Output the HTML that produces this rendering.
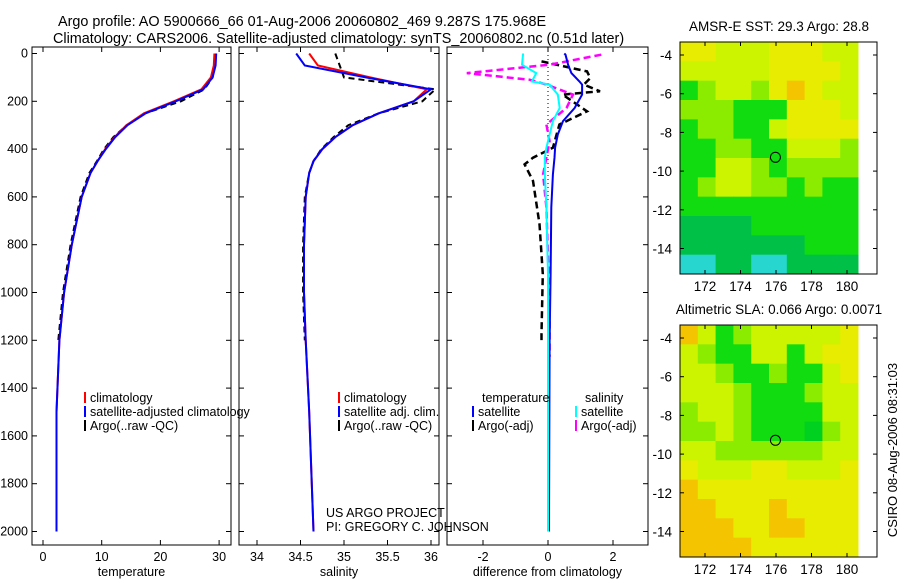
<!DOCTYPE html>
<html><head><meta charset="utf-8"><style>
body{margin:0;background:#fff;}
svg{display:block;font-family:"Liberation Sans",sans-serif;}
</style></head><body>
<svg id="fig" width="900" height="580" viewBox="0 0 900 580">
<text x="58" y="26" font-size="14.4">Argo profile: AO 5900666_66 01-Aug-2006 20060802_469 9.287S 175.968E</text>
<text x="53" y="43" font-size="14.4">Climatology: CARS2006. Satellite-adjusted climatology: synTS_20060802.nc (0.51d later)</text>
<g id="p1"></g>
<g id="p2"></g>
<g id="p3"></g>
<g id="m1"></g>
<g id="m2"></g>
<text transform="translate(897,450) rotate(-90)" text-anchor="middle" font-size="13">CSIRO 08-Aug-2006 08:31:03</text>
</svg>
<script>
// ---- data ----
const depthTicks=[0,200,400,600,800,1000,1200,1400,1600,1800,2000];
const tempTicks=[0,10,20,30];
const salTicks=[34,34.5,35,35.5,36];
const diffTicks=[-2,0,2];
const profDepth=[0,50,100,150,200,250,300,350,400,450,500,600,800,1000,1200,1500,2000];
const tempClim=[29.2,29.1,28.6,27,22.3,17.2,14.2,12.2,10.6,9.3,8.1,6.6,4.9,3.6,2.8,2.3,2.3];
const tempSat=[29.5,29.4,28.9,27.3,22.6,17.5,14.4,12.3,10.7,9.3,8.1,6.6,4.9,3.6,2.8,2.3,2.3];
const tempArgo=[29.3,29.2,28.9,27.5,23.5,17.4,14.3,12,10.4,9.2,7.9,6.4,4.7,3.4,2.6];
const argoDepth=[0,50,100,150,200,250,300,350,400,450,500,600,800,1000,1200];
const salClim=[34.6,34.7,35.3,35.95,35.8,35.4,35.1,34.9,34.75,34.65,34.6,34.56,34.54,34.54,34.56,34.6,34.65];
const salSat=[34.45,34.55,35.25,36.0,35.8,35.4,35.1,34.9,34.75,34.65,34.6,34.56,34.54,34.54,34.56,34.6,34.65];
const salArgo=[34.9,34.95,35.0,36.05,35.9,35.4,35.05,34.88,34.74,34.65,34.6,34.55,34.53,34.53,34.55];
const dDepth=[0,5,47,82,117,130,172,228,283,339,394,436,506,644,922,1200,1600,2000];
const dTempSat=[0.5,0.54,0.62,0.72,0.97,1.05,1.05,0.82,0.46,0.3,0.22,0.2,0.15,0.1,0.08,0.05,0.04,0.03];
const dSalSat=[-0.77,-0.77,-0.8,-0.36,-0.5,0.05,0.3,0.36,0.15,0.05,-0.05,-0.1,-0.1,-0.05,0,0,0,0];
const dtDepth=[33,75,103,130,158,172,242,297,394,436,464,533,714,922,1172,1200];
const dTempArgo=[-0.2,1.2,1.3,1.1,1.6,0.45,1.2,0.35,0.15,-0.46,-0.72,-0.46,-0.26,-0.16,-0.2,-0.2];
const dsDepth=[5,47,82,110,130,172,228,297,367,506,644,1061,1269];
const dSalArgo=[1.64,0.05,-2.5,-0.55,-0.05,0.77,0.57,-0.05,0.05,-0.15,-0.05,0.05,0.05];
const lonTicks=[172,174,176,178,180];
const latTicks=[-4,-6,-8,-10,-12,-14];
const sstGrid=["YYyyyYYYyy","yyyyyYYYYy","glyylYoYyy","lllgggYYYy","gllggyYYYY","ggllggyyyl","ggyylgllll","glyyllglgg","gggggggggg","GGGGgggggg","GGGGGGGggg","ccGGccGGGG"];
const slaGrid=["oyglyyyyyY","ylggyygyYY","yylgglggyY","yyylggglyy","lyylggggyy","llylgggfly","yyllllllyy","YyyyYYyyyY","oYYYYYYYYY","ooYYYoYYYY","oooYYooYYY","ooooYYYYYY"];
const palette={c:"#28d6d0",G:"#00c048",g:"#10dc10",f:"#00d020",l:"#8cec00",y:"#ccf400",Y:"#e8ec00",o:"#f4c400"};
const floatLon=175.968, floatLat=-9.287;
// ---- helpers ----
const NS="http://www.w3.org/2000/svg";
function mk(parent,tag,attrs){const e=document.createElementNS(NS,tag);for(const k in attrs)e.setAttribute(k,attrs[k]);parent.appendChild(e);return e;}
const yD=d=>53.5+d*0.239;
function panel(g,x0,x1,xs,ticks,label){
  const r=mk(g,'rect',{x:x0,y:47,width:x1-x0,height:498,fill:'none',stroke:'#000','stroke-width':1});
  
  
  ticks.forEach(t=>{const x=xs(t);
    mk(g,'line',{x1:x,x2:x,y1:545,y2:540,stroke:'#000'});mk(g,'line',{x1:x,x2:x,y1:47,y2:52,stroke:'#000'});
    const tx=mk(g,'text',{x:x,y:561,'font-size':12.5,'text-anchor':'middle'});tx.textContent=t;
    
    });
  depthTicks.forEach(d=>{const y=yD(d);mk(g,'line',{x1:x0,x2:x0+5,y1:y,y2:y,stroke:'#000'});mk(g,'line',{x1:x1,x2:x1-5,y1:y,y2:y,stroke:'#000'});
    if(x0<40){const t=mk(g,'text',{x:28,y:y+4,'font-size':12.5,'text-anchor':'end'});t.textContent=d;
    
    }});
  const l=mk(g,'text',{x:(x0+x1)/2,y:576,'font-size':12.5,'text-anchor':'middle'});l.textContent=label;
  
  
}
function line(g,xs,vals,deps,color,dash,w,name){
  const pts=vals.map((v,i)=>xs(v).toFixed(1)+','+yD(deps[i]).toFixed(1)).join(' ');
  const p=mk(g,'polyline',{points:pts,fill:'none',stroke:color,'stroke-width':w||2,'stroke-dasharray':dash||'none'});
  
  
}
function legend(g,x,rows,start){rows.forEach((r,i)=>{const y=402+(i+(start||0))*14;
  mk(g,'rect',{x:x,y:y-10,width:2,height:11,fill:r[1]});
  const t=mk(g,'text',{x:x+6,y:y,'font-size':12.5});t.textContent=r[0];
  
  });}
// Panel 1
const p1=document.getElementById('p1');const xT=v=>43+v*5.87;
panel(p1,32,231,xT,tempTicks,'temperature');
line(p1,xT,tempArgo,argoDepth,'#000','6,4',2,'temp-argo-line');
line(p1,xT,tempClim,profDepth,'#f00',null,2,'temp-clim-line');
line(p1,xT,tempSat,profDepth,'#0000ff',null,2,'temp-satadj-line');
legend(p1,84,[['climatology','#f00'],['satellite-adjusted climatology','#00f'],['Argo(..raw -QC)','#000']]);
// Panel 2
const p2=document.getElementById('p2');const xS=v=>257+(v-34)*87;
panel(p2,239,439,xS,salTicks,'salinity');
line(p2,xS,salArgo,argoDepth,'#000','6,4',2,'sal-argo-line');
line(p2,xS,salClim,profDepth,'#f00',null,2,'sal-clim-line');
line(p2,xS,salSat,profDepth,'#0000ff',null,2,'sal-satadj-line');
legend(p2,338,[['climatology','#f00'],['satellite adj. clim.','#00f'],['Argo(..raw -QC)','#000']]);
let t=mk(p2,'text',{x:326,y:517,'font-size':12.5});t.textContent='US ARGO PROJECT';


t=mk(p2,'text',{x:326,y:531,'font-size':12.5});t.textContent='PI: GREGORY C. JOHNSON';


// Panel 3
const p3=document.getElementById('p3');const xF=v=>548+v*32.5;
panel(p3,447,648,xF,diffTicks,'difference from climatology');
mk(p3,'line',{x1:548,x2:548,y1:47,y2:200,stroke:'#000','stroke-dasharray':'1,3'});
line(p3,xF,dTempArgo,dtDepth,'#000','7,4',2.5,'diff-temp-argo');
line(p3,xF,dSalArgo,dsDepth,'#ff00ff','7,4',2.5,'diff-sal-argo');
line(p3,xF,dTempSat,dDepth,'#0000ee',null,2,'diff-temp-sat');
line(p3,xF,dSalSat,dDepth,'#00ffff',null,2,'diff-sal-sat');
[['temperature',474],['salinity',577]].forEach(a=>{const tt=mk(p3,'text',{x:a[1]+8,y:402,'font-size':12.5});tt.textContent=a[0];
  
  });
legend(p3,472,[['satellite','#00f'],['Argo(-adj)','#000']],1);
legend(p3,575,[['satellite','#00ffff'],['Argo(-adj)','#ff00ff']],1);
// Maps
function map(g,top,grid,title){
  const x0=680,x1=877,bot=top+232,lonX=l=>705+(l-172)*17.75,latY=a=>top+13+(-4-a)*19.35;
  const cw=(858-x0)/grid[0].length,ch=(bot-top)/grid.length;
  grid.forEach((row,r)=>{[...row].forEach((c,k)=>{
    const cell=mk(g,'rect',{x:x0+k*cw,y:top+r*ch,width:cw+0.5,height:ch+0.5,fill:palette[c]});
    
    });});
  mk(g,'rect',{x:x0,y:top,width:x1-x0,height:bot-top,fill:'none',stroke:'#000'});
  lonTicks.forEach(l=>{const x=lonX(l);mk(g,'line',{x1:x,x2:x,y1:bot,y2:bot-4,stroke:'#000'});mk(g,'line',{x1:x,x2:x,y1:top,y2:top+4,stroke:'#000'});
    const tx=mk(g,'text',{x:x,y:bot+17,'font-size':13.5,'text-anchor':'middle'});tx.textContent=l;
    
    });
  latTicks.forEach(a=>{const y=latY(a);mk(g,'line',{x1:x0,x2:x0+4,y1:y,y2:y,stroke:'#000'});mk(g,'line',{x1:x1,x2:x1-4,y1:y,y2:y,stroke:'#000'});
    const tx=mk(g,'text',{x:672,y:y+5,'font-size':13.5,'text-anchor':'end'});tx.textContent=a;
    
    });
  const c=mk(g,'circle',{cx:lonX(floatLon),cy:latY(floatLat),r:5,fill:'none',stroke:'#000'});
  
  
  const tt=mk(g,'text',{x:779,y:top-11,'font-size':13.5,'text-anchor':'middle'});tt.textContent=title;
  
  
}
map(document.getElementById('m1'),42,sstGrid,'AMSR-E SST: 29.3 Argo: 28.8');
map(document.getElementById('m2'),325,slaGrid,'Altimetric SLA: 0.066 Argo: 0.0071');
</script>
</body></html>
